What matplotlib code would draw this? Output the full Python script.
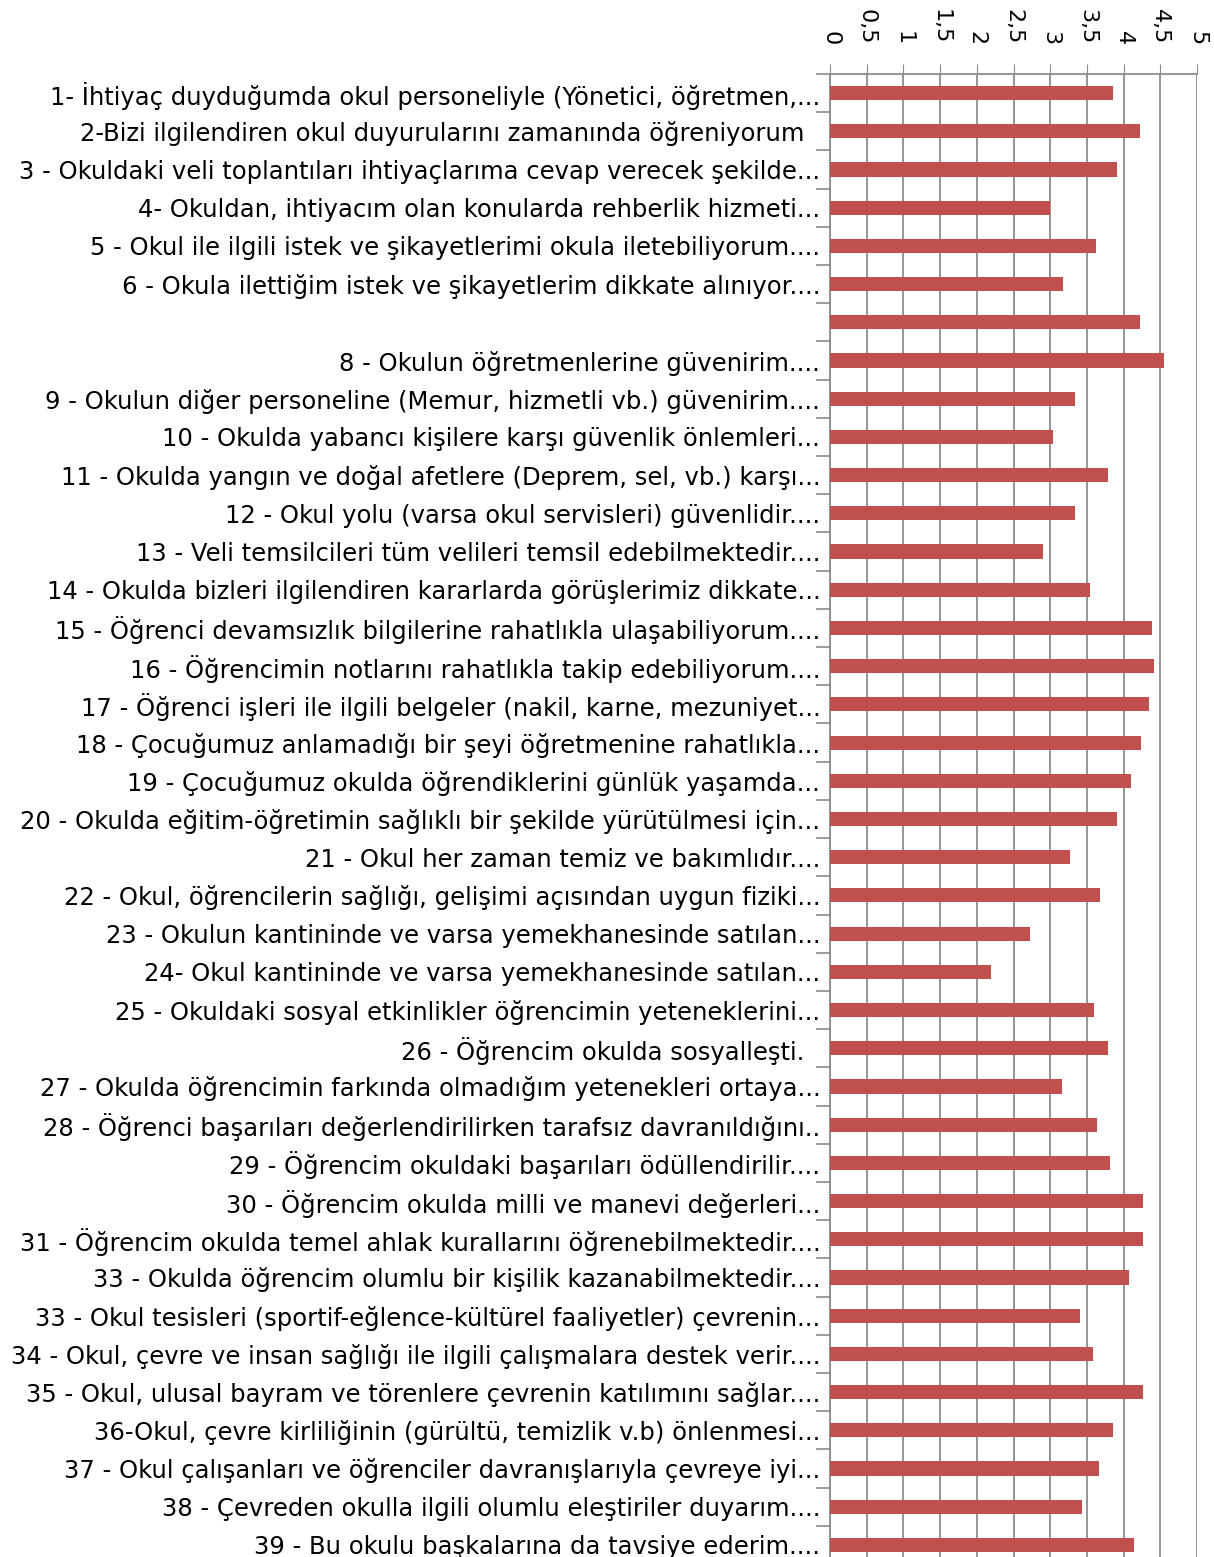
import matplotlib.pyplot as plt
import numpy as np

# survey items (item 7 has no label in the original chart)
labels = [
    '1- İhtiyaç duyduğumda okul personeliyle (Yönetici, öğretmen,...',
    '2-Bizi ilgilendiren okul duyurularını zamanında öğreniyorum  ',
    '3 - Okuldaki veli toplantıları ihtiyaçlarıma cevap verecek şekilde...',
    '4- Okuldan, ihtiyacım olan konularda rehberlik hizmeti...',
    '5 - Okul ile ilgili istek ve şikayetlerimi okula iletebiliyorum....',
    '6 - Okula ilettiğim istek ve şikayetlerim dikkate alınıyor....',
    '',
    '8 - Okulun öğretmenlerine güvenirim....',
    '9 - Okulun diğer personeline (Memur, hizmetli vb.) güvenirim....',
    '10 - Okulda yabancı kişilere karşı güvenlik önlemleri...',
    '11 - Okulda yangın ve doğal afetlere (Deprem, sel, vb.) karşı...',
    '12 - Okul yolu (varsa okul servisleri) güvenlidir....',
    '13 - Veli temsilcileri tüm velileri temsil edebilmektedir....',
    '14 - Okulda bizleri ilgilendiren kararlarda görüşlerimiz dikkate...',
    '15 - Öğrenci devamsızlık bilgilerine rahatlıkla ulaşabiliyorum....',
    '16 - Öğrencimin notlarını rahatlıkla takip edebiliyorum....',
    '17 - Öğrenci işleri ile ilgili belgeler (nakil, karne, mezuniyet...',
    '18 - Çocuğumuz anlamadığı bir şeyi öğretmenine rahatlıkla...',
    '19 - Çocuğumuz okulda öğrendiklerini günlük yaşamda...',
    '20 - Okulda eğitim-öğretimin sağlıklı bir şekilde yürütülmesi için...',
    '21 - Okul her zaman temiz ve bakımlıdır....',
    '22 - Okul, öğrencilerin sağlığı, gelişimi açısından uygun fiziki...',
    '23 - Okulun kantininde ve varsa yemekhanesinde satılan...',
    '24- Okul kantininde ve varsa yemekhanesinde satılan...',
    '25 - Okuldaki sosyal etkinlikler öğrencimin yeteneklerini...',
    '26 - Öğrencim okulda sosyalleşti.  ',
    '27 - Okulda öğrencimin farkında olmadığım yetenekleri ortaya...',
    '28 - Öğrenci başarıları değerlendirilirken tarafsız davranıldığını..',
    '29 - Öğrencim okuldaki başarıları ödüllendirilir....',
    '30 - Öğrencim okulda milli ve manevi değerleri...',
    '31 - Öğrencim okulda temel ahlak kurallarını öğrenebilmektedir....',
    '33 - Okulda öğrencim olumlu bir kişilik kazanabilmektedir....',
    '33 - Okul tesisleri (sportif-eğlence-kültürel faaliyetler) çevrenin...',
    '34 - Okul, çevre ve insan sağlığı ile ilgili çalışmalara destek verir....',
    '35 - Okul, ulusal bayram ve törenlere çevrenin katılımını sağlar....',
    '36-Okul, çevre kirliliğinin (gürültü, temizlik v.b) önlenmesi...',
    '37 - Okul çalışanları ve öğrenciler davranışlarıyla çevreye iyi...',
    '38 - Çevreden okulla ilgili olumlu eleştiriler duyarım....',
    '39 - Bu okulu başkalarına da tavsiye ederim....',
]

scores = [3.85, 4.22, 3.91, 3.00, 3.62, 3.17, 4.22, 4.55, 3.34, 3.04,
          3.79, 3.34, 2.90, 3.54, 4.39, 4.41, 4.35, 4.24, 4.10, 3.91,
          3.27, 3.68, 2.72, 2.19, 3.60, 3.79, 3.16, 3.64, 3.81, 4.26,
          4.26, 4.08, 3.40, 3.58, 4.26, 3.85, 3.66, 3.44, 4.14]

xticks = [0, 0.5, 1, 1.5, 2, 2.5, 3, 3.5, 4, 4.5, 5]
xtick_labels = ['0', '0,5', '1', '1,5', '2', '2,5', '3', '3,5', '4', '4,5', '5']

plt.rcParams['font.family'] = ['DejaVu Sans']

W, H = 1214, 1557
fig = plt.figure(figsize=(W / 100, H / 100), dpi=100)
# axes placed to match the original: x=0 at 830px, x=5 at 1197px, top at 74px
ax = fig.add_axes([830 / W, -7 / H, (1197 - 830) / W, (1564 - 74) / H])

y = np.arange(len(scores))
ax.barh(y, scores, height=0.37, color='#C0504D', zorder=3)

ax.set_xlim(0, 5)
ax.set_ylim(len(scores) - 0.5, -0.5)

ax.xaxis.tick_top()
ax.set_xticks(xticks)
ax.set_xticklabels(xtick_labels, rotation=-90, fontsize=16)
ax.tick_params(axis='x', length=7, color='#8c8c8c', pad=14)
ax.grid(axis='x', color='#8c8c8c', linewidth=1.3, zorder=0)

ax.set_yticks(y)
ax.set_yticklabels(labels, fontsize=17.5)
ax.tick_params(axis='y', length=0, pad=7)
ax.set_yticks(np.arange(-0.5, len(scores), 1), minor=True)
ax.tick_params(axis='y', which='minor', length=10, color='#8c8c8c', width=1.2)

for s in ['right', 'bottom']:
    ax.spines[s].set_visible(False)
for s in ['left', 'top']:
    ax.spines[s].set_color('#8c8c8c')
    ax.spines[s].set_linewidth(1.3)

fig.savefig('out.png', dpi=100, facecolor='white')
